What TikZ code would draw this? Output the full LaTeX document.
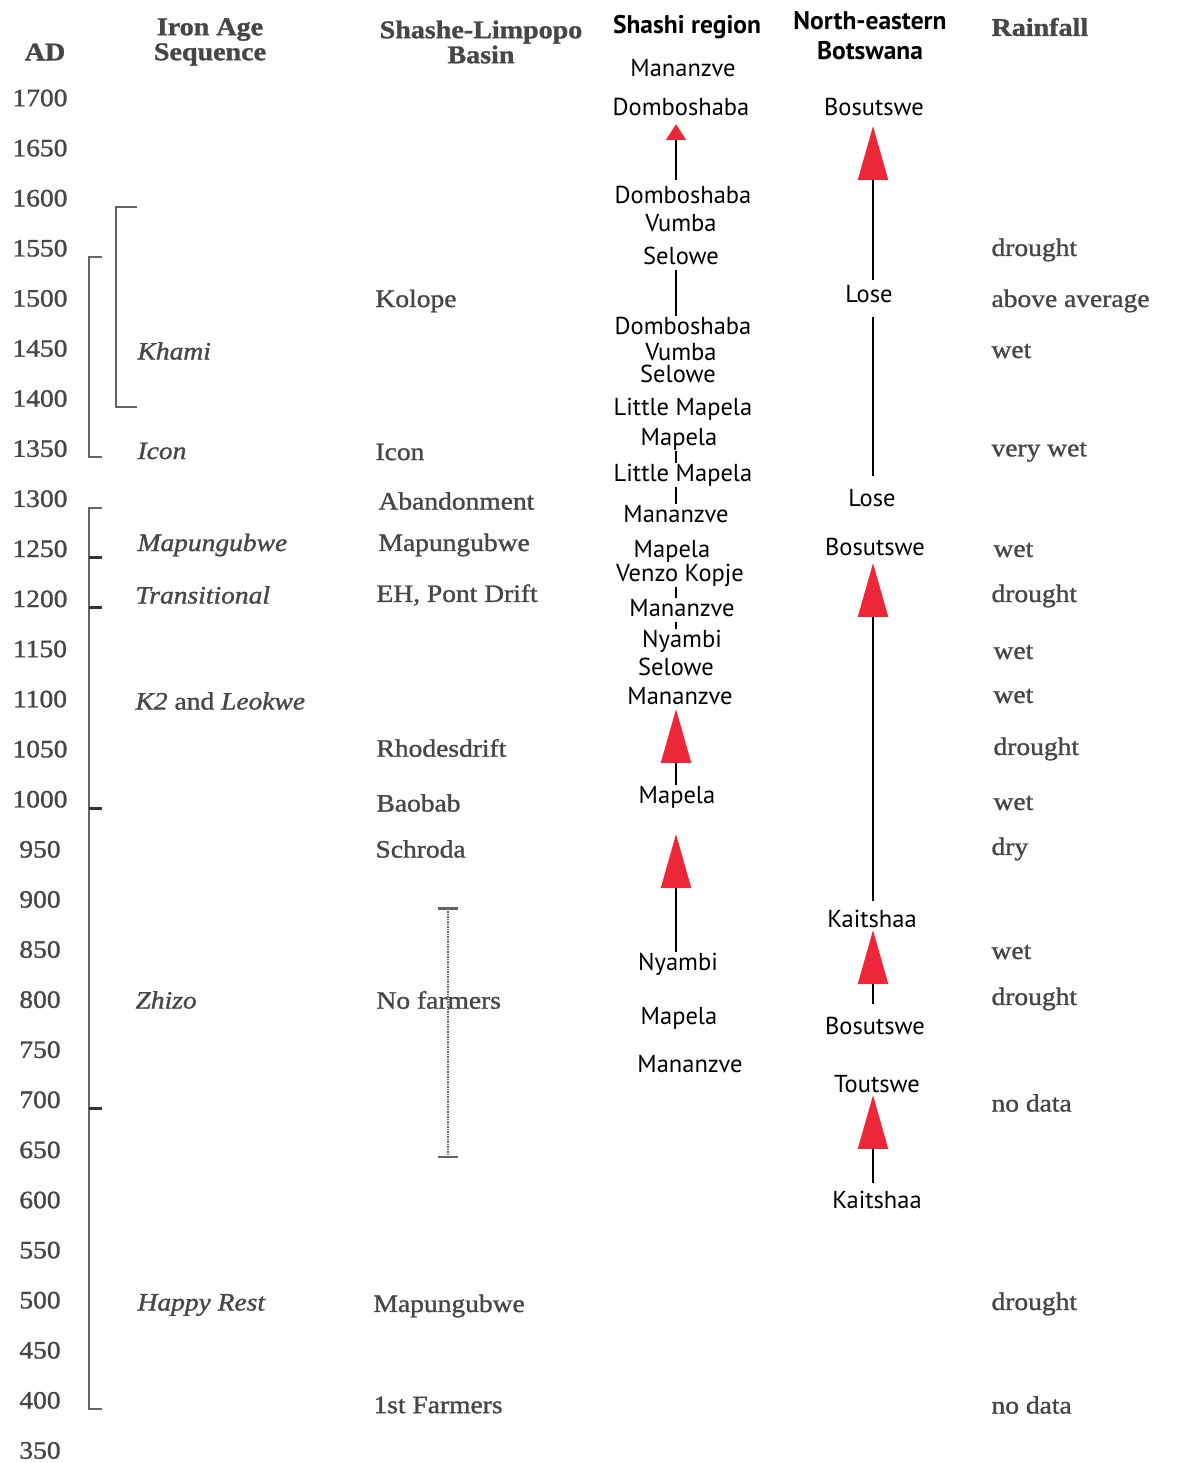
\documentclass[tikz,border=0pt]{standalone}
\usepackage{fontspec}
\setmainfont{Liberation Serif}[FakeStretch=1.1, FakeBold=1.2]
\newfontfamily\sitefont{PT Sans}
\usetikzlibrary{arrows.meta}

\definecolor{inkgray}{RGB}{70,70,70}
\definecolor{bracketgray}{RGB}{100,100,100}
\definecolor{tipred}{RGB}{236,40,56}

\tikzset{
  yearlabel/.style={text=inkgray, inner sep=1pt, font=\fontsize{25}{25}\selectfont},
  seqlabel/.style={anchor=west, text=inkgray, yshift=-2pt, font=\fontsize{25}{25}\selectfont\itshape},
  basinlabel/.style={anchor=west, text=inkgray, yshift=-2pt, font=\fontsize{25}{25}\selectfont},
  rainlabel/.style={anchor=west, text=inkgray, yshift=-2pt, font=\fontsize{25}{25}\selectfont},
  headlabel/.style={align=center, text=inkgray, yshift=-2pt, font=\fontsize{25.5}{25}\selectfont\bfseries},
  sitehead/.style={align=center, font=\fontsize{25.5}{30}\selectfont\sitefont\bfseries},
  site/.style={font=\fontsize{24.5}{24}\selectfont\sitefont, inner sep=1pt, yshift=-3pt, text height=17pt, text depth=5pt},
  link/.style={line width=2.5pt},
  bigtip/.style={link, -{Triangle[width=30pt,length=54pt,color=tipred]}},
  smalltip/.style={link, -{Triangle[width=20pt,length=16pt,color=tipred]}},
  bracket/.style={draw=bracketgray, line width=2.5pt},
  tick/.style={draw=black!80, line width=3pt}
}

\begin{document}
\begin{tikzpicture}[x=1pt,y=-1pt]

    \useasboundingbox (0,0) rectangle (1180,1463);
    \clip (0,0) rectangle (1180,1463);

    % headers
    \node [headlabel] (hAD) at (45,50) {AD};
    \node [headlabel] (hSeq) at (210,40) {Iron Age\\Sequence};
    \node [headlabel] (hBasin) at (481,40) {Shashe-Limpopo\\Basin};
    \node [sitehead] (hShashi) at (687,27) {Shashi region};
    \node [sitehead] (hNE) at (870,36) {North-eastern\\Botswana};
    \node [headlabel, anchor=west] (hRain) at (988,25) {Rainfall};

    % years
    \foreach \yr in {1700,1650,...,350}
        \node [yearlabel] (y\yr) at (40,{98+(1700-\yr)*1.0018}) {\yr};

    % brackets
    \draw [bracket] (102,257) -- (89,257) -- (89,457) -- (102,457);
    \draw [bracket] (137,207) -- (116,207) -- (116,407) -- (137,407);
    \draw [bracket] (102,508) -- (89,508) -- (89,1409) -- (102,1409);
    \foreach \ty in {557,607,808,1108}
        \draw [tick] (89,\ty) -- (102,\ty);

    % Iron Age Sequence
    \node [seqlabel] (sKhami) at (134,349) {Khami};
    \node [seqlabel] (sIcon) at (134,449) {Icon};
    \node [seqlabel] (sMapun) at (134,543) {Mapungubwe};
    \node [seqlabel] (sTrans) at (132,593) {Transitional};
    \node [seqlabel] (sK2) at (132,699) {K2 \upshape and \itshape Leokwe};
    \node [seqlabel] (sZhizo) at (132,998) {Zhizo};
    \node [seqlabel] (sHappy) at (134,1303) {Happy Rest};

    % Shashe-Limpopo Basin
    \node [basinlabel] (bKolope) at (372,299) {Kolope};
    \node [basinlabel] (bIcon) at (372,450) {Icon};
    \node [basinlabel] (bAband) at (375,499) {Abandonment};
    \node [basinlabel] (bMapun) at (375,543) {Mapungubwe};
    \node [basinlabel] (bEH) at (373,593) {EH, Pont Drift};
    \node [basinlabel] (bRhodes) at (373,746) {Rhodesdrift};
    \node [basinlabel] (bBaobab) at (373,801) {Baobab};
    \node [basinlabel] (bSchroda) at (372,847) {Schroda};
    \node [basinlabel] (bNoFarm) at (373,998) {No farmers};
    \node [basinlabel] (bMapunB) at (370,1304) {Mapungubwe};
    \node [basinlabel] (bFirst) at (370,1403) {1st Farmers};

    \coordinate (nfTop) at (448,907);
    \coordinate (nfBot) at (448,1158);
    \draw [bracketgray, line width=1.5pt, densely dotted, {Bar[width=20pt,line width=2.5pt]}-{Bar[width=20pt,line width=2.5pt]}] (nfTop) -- (nfBot);

    % Rainfall
    \node [rainlabel] (rDrA) at (988,248) {drought};
    \node [rainlabel] (rAbove) at (988,299) {above average};
    \node [rainlabel] (rWetA) at (988,349) {wet};
    \node [rainlabel] (rVery) at (988,450) {very wet};
    \node [rainlabel] (rWetB) at (990,548) {wet};
    \node [rainlabel] (rDrB) at (988,594) {drought};
    \node [rainlabel] (rWetC) at (990,650) {wet};
    \node [rainlabel] (rWetD) at (990,694) {wet};
    \node [rainlabel] (rDrC) at (990,747) {drought};
    \node [rainlabel] (rWetE) at (990,801) {wet};
    \node [rainlabel] (rDry) at (988,847) {dry};
    \node [rainlabel] (rWetF) at (988,950) {wet};
    \node [rainlabel] (rDrD) at (988,997) {drought};
    \node [rainlabel] (rNoA) at (988,1101) {no data};
    \node [rainlabel] (rDrE) at (988,1302) {drought};
    \node [rainlabel] (rNoB) at (988,1403) {no data};

    % Shashi region
    \coordinate (shx) at (676,0);
    \node [site] (shMan1) at (683,68) {Mananzve};
    \node [site] (shDom1) at (681,107) {Domboshaba};
    \node [site] (shDom2) at (683,195) {Domboshaba};
    \node [site] (shVum1) at (681,223) {Vumba};
    \node [site] (shSel1) at (681,255) {Selowe};
    \node [site] (shDom3) at (683,325) {Domboshaba};
    \node [site] (shVum2) at (681,351) {Vumba};
    \node [site] (shSel2) at (678,373) {Selowe};
    \node [site] (shLit1) at (683,406) {Little Mapela};
    \node [site] (shMap1) at (679,436) {Mapela};
    \node [site] (shLit2) at (683,472) {Little Mapela};
    \node [site] (shMan2) at (676,513) {Mananzve};
    \node [site] (shMap2) at (672,548) {Mapela};
    \node [site] (shVenzo) at (680,572) {Venzo Kopje};
    \node [site] (shMan3) at (682,607) {Mananzve};
    \node [site] (shNya1) at (682,638) {Nyambi};
    \node [site] (shSel3) at (676,666) {Selowe};
    \node [site] (shMan4) at (680,695) {Mananzve};
    \node [site] (shMap3) at (677,794) {Mapela};
    \node [site] (shNya2) at (678,961) {Nyambi};
    \node [site] (shMap4) at (679,1015) {Mapela};
    \node [site] (shMan5) at (690,1063) {Mananzve};

    \draw [smalltip, shorten <=6pt, shorten >=2pt] (shDom2.north -| shx) -- (shDom1.south -| shx);
    \draw [link] (shSel1.south -| shx) -- (shDom3.north -| shx);
    \draw [link] (shMap1.south -| shx) -- (shLit2.north -| shx);
    \draw [link] (shLit2.south -| shx) -- (shMan2.north -| shx);
    \draw [link] (shVenzo.south -| shx) -- (shMan3.north -| shx);
    \draw [link] (shMan3.south -| shx) -- (shNya1.north -| shx);
    \draw [bigtip, shorten >=-1pt] (shMap3.north -| shx) -- (shMan4.south -| shx);
    \draw [bigtip, shorten >=25pt] (shNya2.north -| shx) -- (shMap3.south -| shx);

    % North-eastern Botswana
    \coordinate (nex) at (873,0);
    \node [site] (neBos1) at (874,107) {Bosutswe};
    \node [site] (neLose1) at (869,293) {Lose};
    \node [site] (neLose2) at (872,497) {Lose};
    \node [site] (neBos2) at (875,546) {Bosutswe};
    \node [site] (neKai1) at (872,918) {Kaitshaa};
    \node [site] (neBos3) at (875,1025) {Bosutswe};
    \node [site] (neTou) at (877,1083) {Toutswe};
    \node [site] (neKai2) at (877,1199) {Kaitshaa};

    \draw [bigtip, shorten <=4pt, shorten >=4pt] (neLose1.north -| nex) -- (neBos1.south -| nex);
    \draw [link, shorten <=9pt, shorten >=12pt] (neLose1.south -| nex) -- (neLose2.north -| nex);
    \draw [bigtip, shorten <=8pt, shorten >=2pt] (neKai1.north -| nex) -- (neBos2.south -| nex);
    \draw [bigtip, shorten <=12pt, shorten >=-3pt] (neBos3.north -| nex) -- (neKai1.south -| nex);
    \draw [bigtip, shorten <=7pt, shorten >=-3pt] (neKai2.north -| nex) -- (neTou.south -| nex);

\end{tikzpicture}
\end{document}
